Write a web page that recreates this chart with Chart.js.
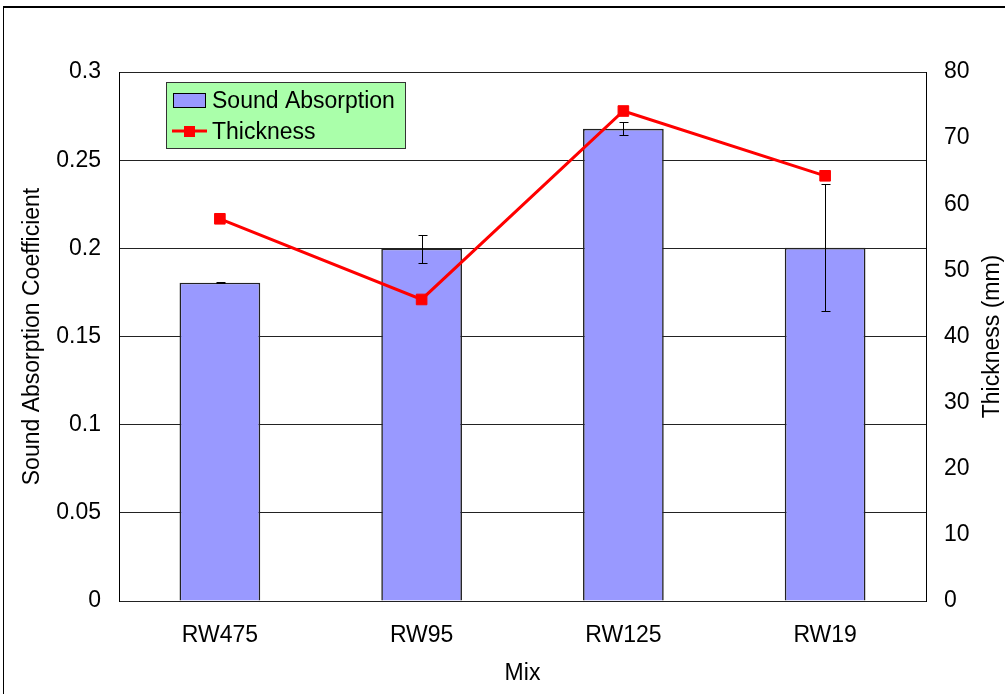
<!DOCTYPE html>
<html>
<head>
<meta charset="utf-8">
<script src="https://cdn.jsdelivr.net/npm/chart.js@4.4.0/dist/chart.umd.min.js"></script>
<style>
  body { margin: 0; background: #fff; }
  #wrap { position: relative; width: 1005px; height: 694px; overflow: hidden; }
  #frame { position: absolute; left: 3px; top: 6px; width: 1100px; height: 800px;
           border-top: 2px solid #000; border-left: 1px solid #000; }
  canvas { position: absolute; left: 0; top: 0; }
</style>
</head>
<body>
<div id="wrap">
  <div id="frame"></div>
  <canvas id="chart" width="1005" height="694"></canvas>
</div>
<script>
// data
const mixes = ['RW475', 'RW95', 'RW125', 'RW19'];
const absorption = [0.1805, 0.1998, 0.2678, 0.2003];
const absorptionErr = [0.0003, 0.008, 0.0038, 0.036];
const thickness = [57.8, 45.6, 74.1, 64.3];
const absTicks = ['0', '0.05', '0.1', '0.15', '0.2', '0.25', '0.3'];
const thickTicks = ['0', '10', '20', '30', '40', '50', '60', '70', '80'];

const FONT = 'Liberation Sans, Arial, sans-serif';
Chart.defaults.font.family = FONT;
Chart.defaults.font.size = 23;
Chart.defaults.color = '#000';

// error bars on the absorption bars, drawn right after that dataset
const errorBars = {
  id: 'errorBars',
  afterDatasetDraw(chart, args) {
    if (args.index !== 0) return;
    const ctx = chart.ctx, y = chart.scales.y;
    ctx.save();
    ctx.strokeStyle = '#000';
    ctx.lineWidth = 1;
    args.meta.data.forEach((bar, i) => {
      const x = Math.round(bar.x) + 0.5;
      const top = Math.round(y.getPixelForValue(absorption[i] + absorptionErr[i])) + 0.5;
      const bot = Math.round(y.getPixelForValue(absorption[i] - absorptionErr[i])) + 0.5;
      ctx.beginPath();
      ctx.moveTo(x, top); ctx.lineTo(x, bot);
      ctx.moveTo(x - 4, top); ctx.lineTo(x + 5, top);
      ctx.moveTo(x - 4, bot); ctx.lineTo(x + 5, bot);
      ctx.stroke();
    });
    ctx.restore();
  }
};

// right axis title reads bottom-to-top, and the boxed legend inside the plot
const extras = {
  id: 'extras',
  afterDraw(chart) {
    const ctx = chart.ctx, area = chart.chartArea;
    ctx.save();
    ctx.font = '23px ' + FONT;
    ctx.fillStyle = '#000';
    ctx.textAlign = 'center';
    ctx.textBaseline = 'middle';
    ctx.translate(993, (area.top + area.bottom) / 2);
    ctx.rotate(-Math.PI / 2);
    ctx.fillText('Thickness (mm)', 0, 0);
    ctx.restore();

    const ds = chart.data.datasets;
    const lx = 166, ly = 82, lw = 239, lh = 66;
    ctx.save();
    ctx.fillStyle = '#AAFFAA';
    ctx.fillRect(lx, ly, lw, lh);
    ctx.strokeStyle = '#333';
    ctx.lineWidth = 1;
    ctx.strokeRect(lx + 0.5, ly + 0.5, lw, lh);
    // bar swatch
    ctx.fillStyle = ds[0].backgroundColor;
    ctx.fillRect(173, 93, 32, 14);
    ctx.strokeStyle = '#000';
    ctx.strokeRect(173.5, 93.5, 32, 14);
    // line swatch
    ctx.strokeStyle = ds[1].borderColor;
    ctx.lineWidth = 3;
    ctx.beginPath();
    ctx.moveTo(172, 131); ctx.lineTo(207, 131);
    ctx.stroke();
    ctx.fillStyle = ds[1].borderColor;
    ctx.fillRect(184, 126, 11, 11);
    ctx.fillStyle = '#000';
    ctx.font = '23px ' + FONT;
    ctx.textAlign = 'left';
    ctx.textBaseline = 'middle';
    ctx.fillText(ds[0].label, 212, 102);
    ctx.fillText(ds[1].label, 212, 133);
    ctx.restore();
  }
};

new Chart(document.getElementById('chart'), {
  type: 'bar',
  data: {
    labels: mixes,
    datasets: [
      {
        label: 'Sound Absorption',
        data: absorption,
        backgroundColor: '#9999FF',
        borderColor: '#222',
        borderWidth: 1.6,
        barPercentage: 0.4,
        categoryPercentage: 1,
        yAxisID: 'y',
        order: 1
      },
      {
        type: 'line',
        label: 'Thickness',
        data: thickness,
        borderColor: '#FF0000',
        backgroundColor: '#FF0000',
        borderWidth: 3,
        pointStyle: 'rect',
        pointRadius: 7.5,
        pointBorderWidth: 1,
        tension: 0,
        yAxisID: 'y2',
        order: 0
      }
    ]
  },
  options: {
    responsive: false,
    devicePixelRatio: 1,
    animation: false,
    layout: { padding: { top: 72, left: 0, right: 0, bottom: 0 } },
    plugins: { legend: { display: false }, tooltip: { enabled: false } },
    scales: {
      x: {
        grid: { display: false },
        border: { display: false },
        ticks: { padding: 13 },
        title: { display: true, text: 'Mix', font: { lineHeight: 1 }, padding: { top: 0, bottom: 9 } },
        afterFit(s) { s.height = 93; }
      },
      y: {
        position: 'left',
        min: 0, max: 0.3,
        ticks: { stepSize: 0.05, padding: 18, callback: (v, i) => absTicks[i] },
        grid: { color: '#222', lineWidth: 1, drawTicks: false },
        border: { display: true, color: '#000' },
        title: { display: true, text: 'Sound Absorption Coefficient', font: { lineHeight: 1 }, padding: { top: 21, bottom: 0 } },
        afterFit(s) { s.width = 119; }
      },
      y2: {
        position: 'right',
        min: 0, max: 80,
        ticks: { stepSize: 10, padding: 18, callback: (v, i) => thickTicks[i] },
        grid: { display: false, drawTicks: false },
        border: { display: true, color: '#000' },
        afterFit(s) { s.width = 79; }
      }
    }
  },
  plugins: [errorBars, extras]
});
</script>
</body>
</html>
